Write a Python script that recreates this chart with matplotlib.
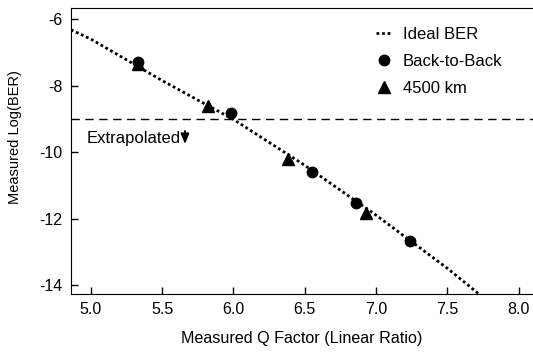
import numpy as np
import matplotlib.pyplot as plt

plt.rcParams['font.family'] = ['Liberation Sans', 'DejaVu Sans']
plt.rcParams['axes.unicode_minus'] = False

# Ideal BER curve
ideal_q = [4.86, 5.0, 5.5, 6.0, 6.5, 7.0, 7.5, 7.72]
ideal_log_ber = [-6.32, -6.6, -7.85, -9.02, -10.4, -11.9, -13.5, -14.27]

# Measured points
b2b_q = [5.33, 5.98, 6.55, 6.86, 7.24]
b2b_log_ber = [-7.3, -8.82, -10.6, -11.52, -12.68]
km4500_q = [5.33, 5.82, 6.38, 6.93]
km4500_log_ber = [-7.34, -8.6, -10.22, -11.83]

threshold = -9.0

fig = plt.figure(figsize=(5.33, 3.55), dpi=100)
ax = fig.add_axes([0.133, 0.172, 0.867, 0.805])

ax.plot(ideal_q, ideal_log_ber, color="black", linestyle=(0, (1, 1)), linewidth=2.0,
        label="Ideal BER")
ax.plot(b2b_q, b2b_log_ber, "o", color="black", markersize=7.5, label="Back-to-Back")
ax.plot(km4500_q, km4500_log_ber, "^", color="black", markersize=8.5, label="4500 km")
ax.axhline(threshold, color="black", linestyle=(0, (6, 4)), linewidth=1.0)

ax.text(4.97, -9.58, "Extrapolated", fontsize=12, va="center", ha="left")
ax.annotate("", xy=(5.66, -9.84), xytext=(5.66, -9.28),
            arrowprops=dict(arrowstyle="-|>,head_width=0.25,head_length=0.6",
                            color="black", lw=1.3))

ax.set_xlim(4.86, 8.1)
ax.set_ylim(-14.27, -5.67)
ax.set_xticks([5.0, 5.5, 6.0, 6.5, 7.0, 7.5, 8.0])
ax.set_yticks([-14, -12, -10, -8, -6])
ax.tick_params(direction="in", length=5, width=1, labelsize=11.5, pad=6)
ax.spines["right"].set_visible(False)
ax.set_xlabel("Measured Q Factor (Linear Ratio)", fontsize=11.6, labelpad=10)
ax.set_ylabel("Measured Log(BER)", fontsize=10.5)
ax.yaxis.set_label_coords(-0.105, 0.55)

ax.legend(loc="upper right", bbox_to_anchor=(0.966, 0.986), frameon=False, fontsize=12,
          handlelength=0.9, handletextpad=0.7, labelspacing=0.72, numpoints=1)

fig.savefig("out.png", dpi=100)
